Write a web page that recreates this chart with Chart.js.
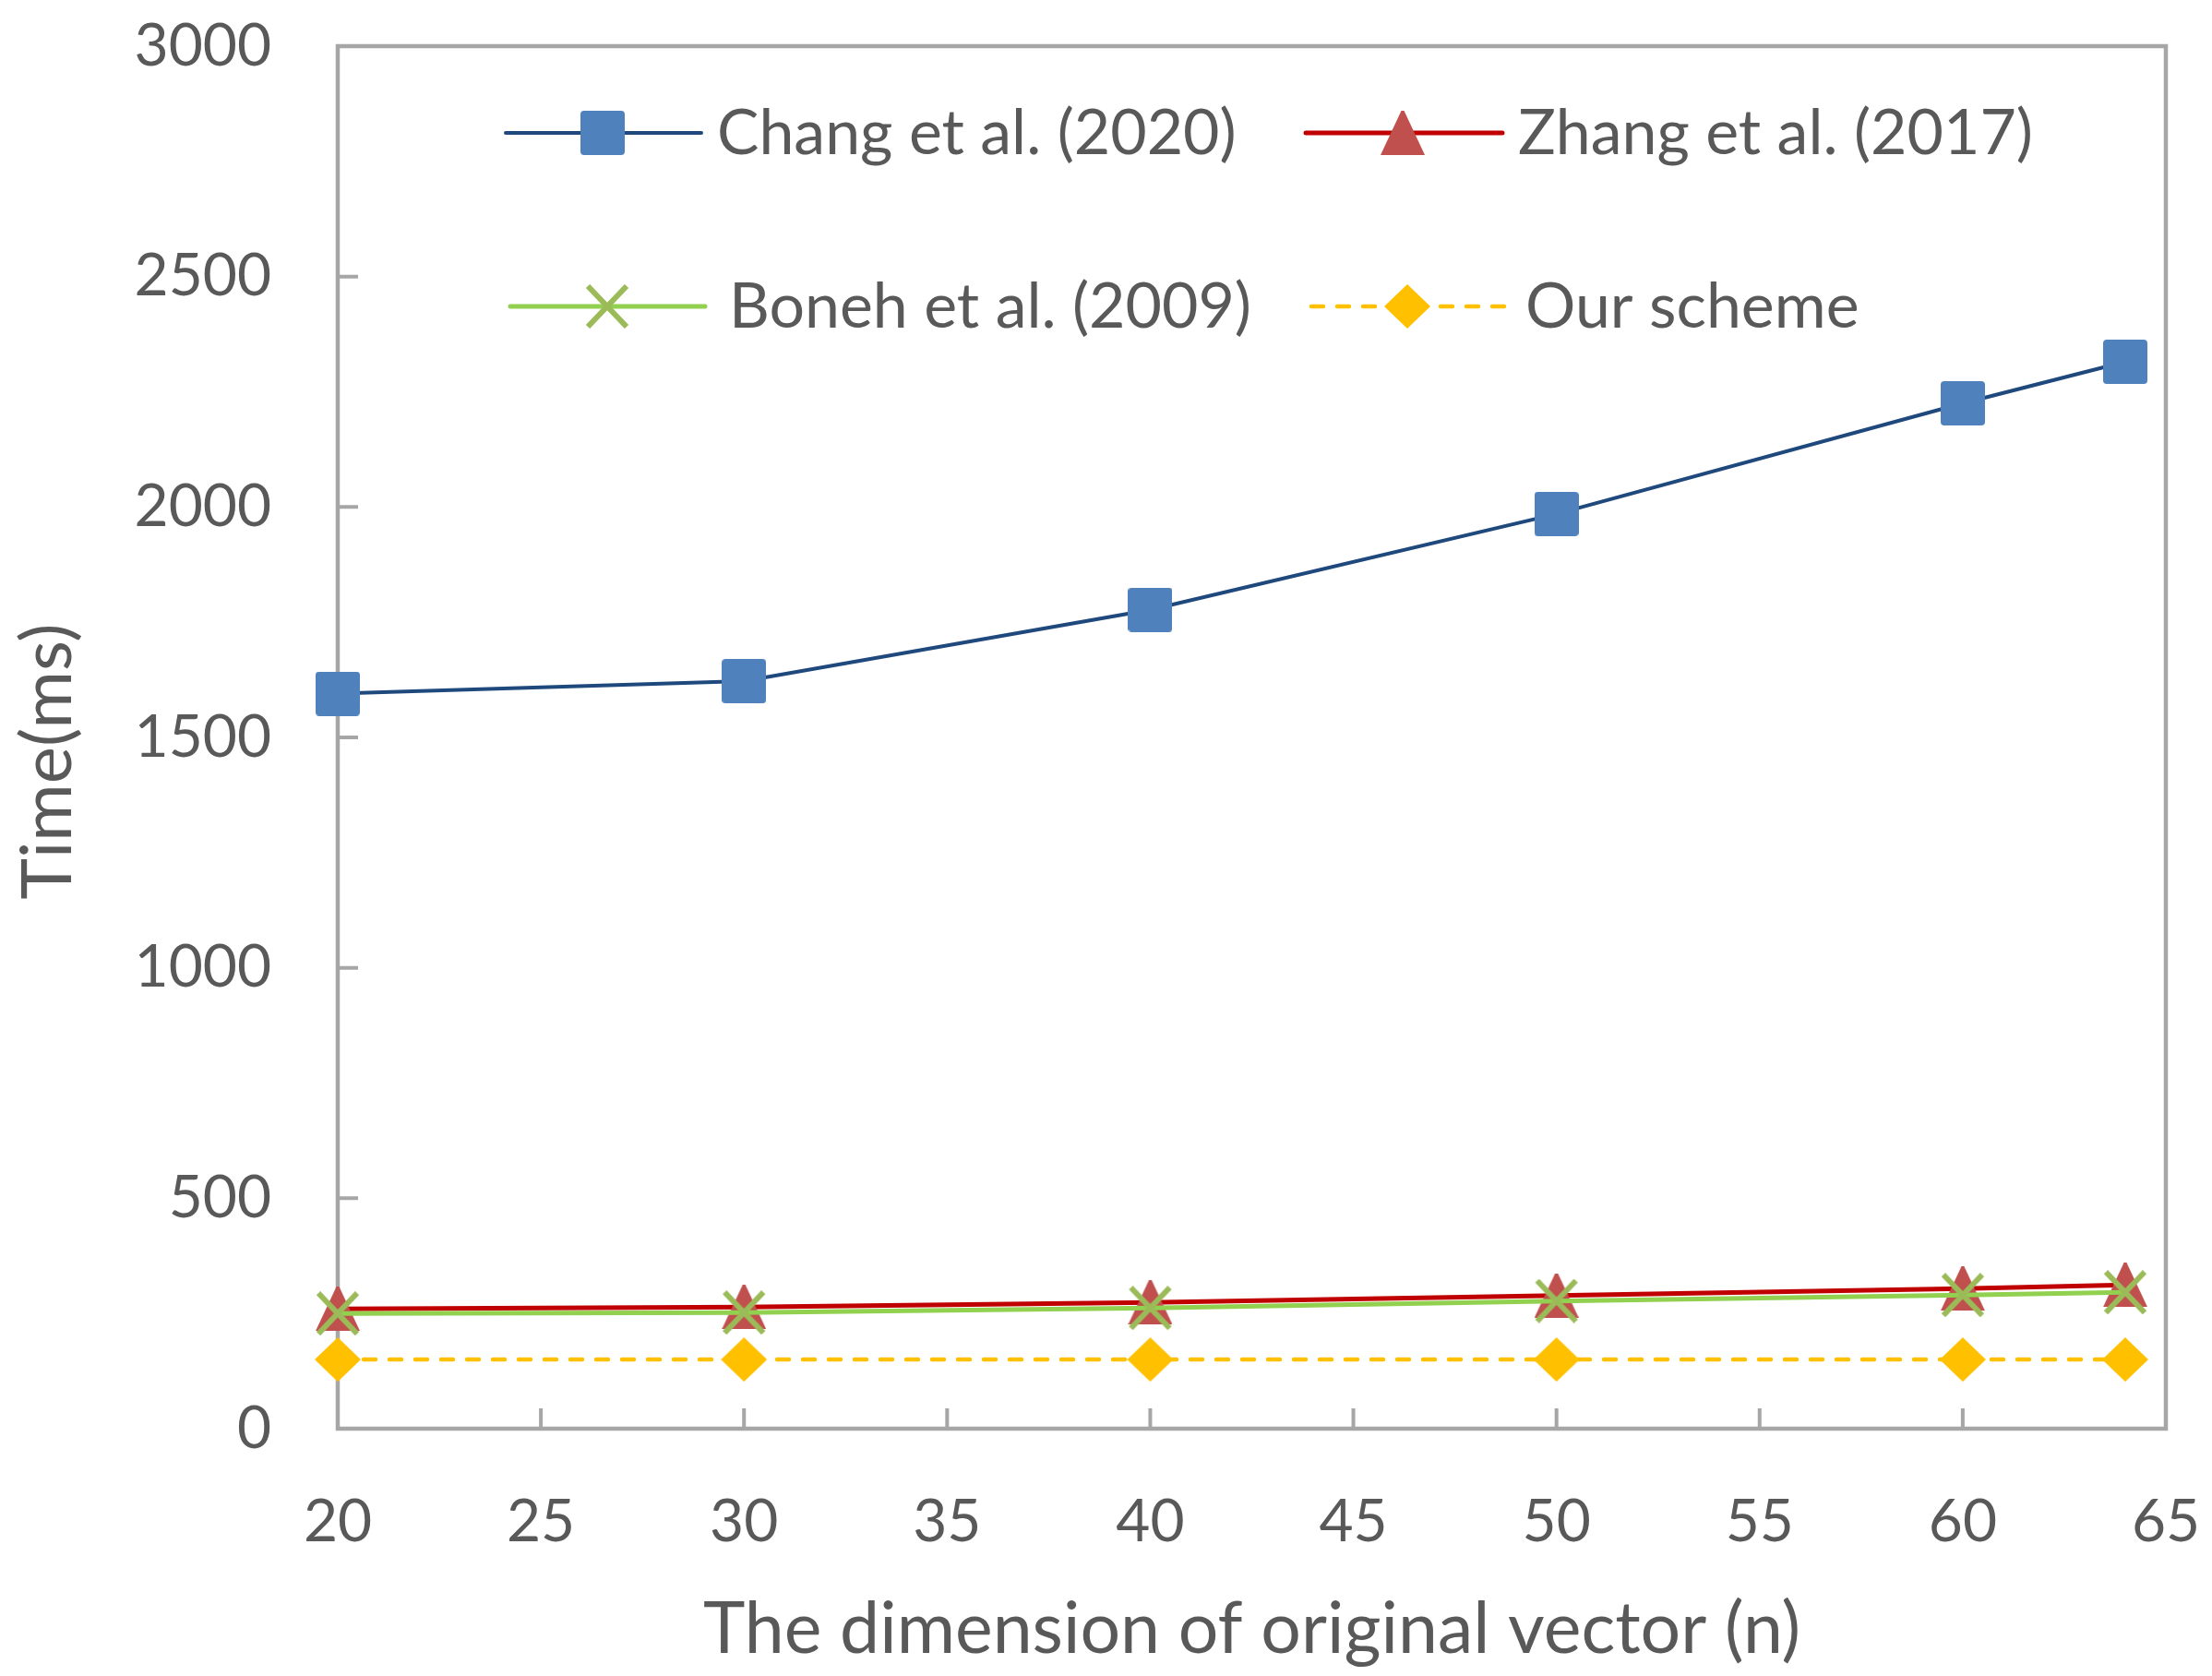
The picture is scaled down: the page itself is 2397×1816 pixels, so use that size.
<!DOCTYPE html>
<html>
<head>
<meta charset="utf-8">
<script src="https://cdn.jsdelivr.net/npm/chart.js@4.4.1/dist/chart.umd.min.js"></script>
<style>
  html, body { margin: 0; padding: 0; background: #ffffff; }
  canvas { display: block; }
</style>
</head>
<body>
<canvas id="c" width="2397" height="1816" style="width:2397px;height:1816px"></canvas>
<script>
// ---- data ----
const dims = [20, 30, 40, 50, 60, 64];
const chang = [1595, 1622, 1777, 1985, 2225, 2315];
const zhang = [260, 264, 274, 289, 304, 312];
const boneh = [250, 252, 262, 277, 290, 296];
const ours = [150, 150, 150, 150, 150, 150];
const seriesNames = ['Chang et al. (2020)', 'Zhang et al. (2017)', 'Boneh et al. (2009)', 'Our scheme'];
const xTicks = [20, 25, 30, 35, 40, 45, 50, 55, 60, 65];
const yTicks = [0, 500, 1000, 1500, 2000, 2500, 3000];
const xTitle = 'The dimension of original vector (n)';
const yTitle = 'Time(ms)';

const TEXT = '#595959';
const AXIS = '#A6A6A6';
const FONT = 'Lato';

// ---- marker images ----
function mk(w, h, draw) {
  const c = document.createElement('canvas');
  c.width = w; c.height = h;
  draw(c.getContext('2d'), w, h);
  return c;
}
const sqImg = mk(48, 48, (g, w, h) => {
  g.fillStyle = '#4F81BD';
  g.beginPath();
  if (g.roundRect) g.roundRect(0, 0, w, h, 4); else g.rect(0, 0, w, h);
  g.fill();
});
const triImg = mk(48, 48, (g, w, h) => {
  g.fillStyle = '#C0504D';
  g.beginPath();
  g.moveTo(w / 2 - 1.5, 0); g.lineTo(w / 2 + 1.5, 0);
  g.lineTo(w, h); g.lineTo(0, h); g.closePath();
  g.fill();
});
const xImg = mk(48, 48, (g, w, h) => {
  g.strokeStyle = '#9BBB59';
  g.lineWidth = 6;
  g.lineCap = 'butt';
  g.beginPath();
  g.moveTo(3, 2); g.lineTo(w - 3, h - 2);
  g.moveTo(w - 3, 2); g.lineTo(3, h - 2);
  g.stroke();
});
const diaImg = mk(50, 48, (g, w, h) => {
  g.fillStyle = '#FFC000';
  g.beginPath();
  g.moveTo(w / 2, 0); g.lineTo(w, h / 2); g.lineTo(w / 2, h); g.lineTo(0, h / 2); g.closePath();
  g.fill();
});

const pts = vals => vals.map((v, i) => ({ x: dims[i], y: v }));

const styles = [
  { color: '#1F497D', width: 4, dash: [], img: sqImg },
  { color: '#C00000', width: 5, dash: [], img: triImg },
  { color: '#92D050', width: 5, dash: [], img: xImg },
  { color: '#FFC000', width: 4.5, dash: [13, 15], img: diaImg }
];

// ---- plugins ----
const framePlugin = {
  id: 'frame',
  beforeDatasetsDraw(chart) {
    const { ctx, chartArea: a, scales: { x, y } } = chart;
    ctx.save();
    ctx.strokeStyle = AXIS;
    ctx.lineWidth = 4;
    ctx.beginPath();
    yTicks.forEach(v => {
      const py = y.getPixelForValue(v);
      ctx.moveTo(a.left, py); ctx.lineTo(a.left + 22, py);
    });
    xTicks.forEach(v => {
      const px = x.getPixelForValue(v);
      ctx.moveTo(px, a.bottom); ctx.lineTo(px, a.bottom - 22);
    });
    ctx.stroke();
    ctx.lineWidth = 4.5;
    ctx.strokeRect(a.left, a.top, a.right - a.left, a.bottom - a.top);
    ctx.restore();
  }
};

const legendItems = [
  { s: 0, y: 144, x1: 548, x2: 760, mx: 653, tx: 777 },
  { s: 1, y: 144, x1: 1415, x2: 1628, mx: 1520, tx: 1645 },
  { s: 2, y: 332, x1: 553, x2: 764, mx: 658, tx: 790 },
  { s: 3, y: 332, x1: 1421, x2: 1630, mx: 1525, tx: 1653 }
];

const overlayPlugin = {
  id: 'overlay',
  afterDraw(chart) {
    const { ctx } = chart;
    ctx.save();
    // legend
    legendItems.forEach(it => {
      const st = styles[it.s];
      ctx.strokeStyle = st.color;
      ctx.lineWidth = st.width;
      ctx.lineCap = 'round';
      ctx.setLineDash(st.dash);
      ctx.beginPath();
      ctx.moveTo(it.x1, it.y); ctx.lineTo(it.x2, it.y);
      ctx.stroke();
      ctx.setLineDash([]);
      ctx.drawImage(st.img, it.mx - st.img.width / 2, it.y - st.img.height / 2);
      ctx.fillStyle = TEXT;
      ctx.font = '68px ' + FONT;
      ctx.textAlign = 'left';
      ctx.textBaseline = 'alphabetic';
      ctx.fillText(seriesNames[it.s], it.tx, it.y + 23);
    });
    // y title
    ctx.translate(77, 825);
    ctx.rotate(-Math.PI / 2);
    ctx.fillStyle = TEXT;
    ctx.font = '76px ' + FONT;
    ctx.textAlign = 'center';
    ctx.textBaseline = 'alphabetic';
    ctx.fillText(yTitle, 0, 0);
    ctx.restore();
  }
};

const datasets = [chang, zhang, boneh, ours].map((vals, i) => ({
  label: seriesNames[i],
  data: pts(vals),
  borderColor: styles[i].color,
  backgroundColor: styles[i].color,
  borderWidth: styles[i].width,
  borderDash: styles[i].dash,
  borderCapStyle: 'round',
  pointStyle: styles[i].img,
  pointRadius: 24,
  pointHoverRadius: 24,
  tension: 0,
  clip: false,
  order: i === 0 ? 0 : (i === 2 ? 1 : (i === 1 ? 2 : 3))
}));

new Chart(document.getElementById('c'), {
  type: 'line',
  data: { datasets },
  options: {
    responsive: false,
    animation: false,
    devicePixelRatio: 1,
    layout: { padding: { top: 50, right: 50, left: 0, bottom: 0 } },
    plugins: { legend: { display: false }, tooltip: { enabled: false } },
    events: [],
    scales: {
      x: {
        type: 'linear', min: 20, max: 65,
        afterBuildTicks: s => { s.ticks = xTicks.map(v => ({ value: v })); },
        afterFit: s => { s.height = 268; s.paddingLeft = 0; s.paddingRight = 0; },
        grid: { display: false, drawTicks: false },
        border: { display: false },
        ticks: { font: { family: FONT, size: 64 }, color: TEXT, padding: 63, maxRotation: 0, autoSkip: false,
                 callback: v => String(v) },
        title: { display: true, text: xTitle, font: { family: FONT, size: 77 }, color: TEXT, padding: 4 }
      },
      y: {
        type: 'linear', min: 0, max: 3000,
        afterBuildTicks: s => { s.ticks = yTicks.map(v => ({ value: v })); },
        afterFit: s => { s.width = 366; s.paddingTop = 0; s.paddingBottom = 0; },
        grid: { display: false, drawTicks: false },
        border: { display: false },
        ticks: { font: { family: FONT, size: 64 }, color: TEXT, padding: 72, autoSkip: false,
                 callback: v => String(v) }
      }
    }
  },
  plugins: [framePlugin, overlayPlugin]
});
</script>
</body>
</html>
